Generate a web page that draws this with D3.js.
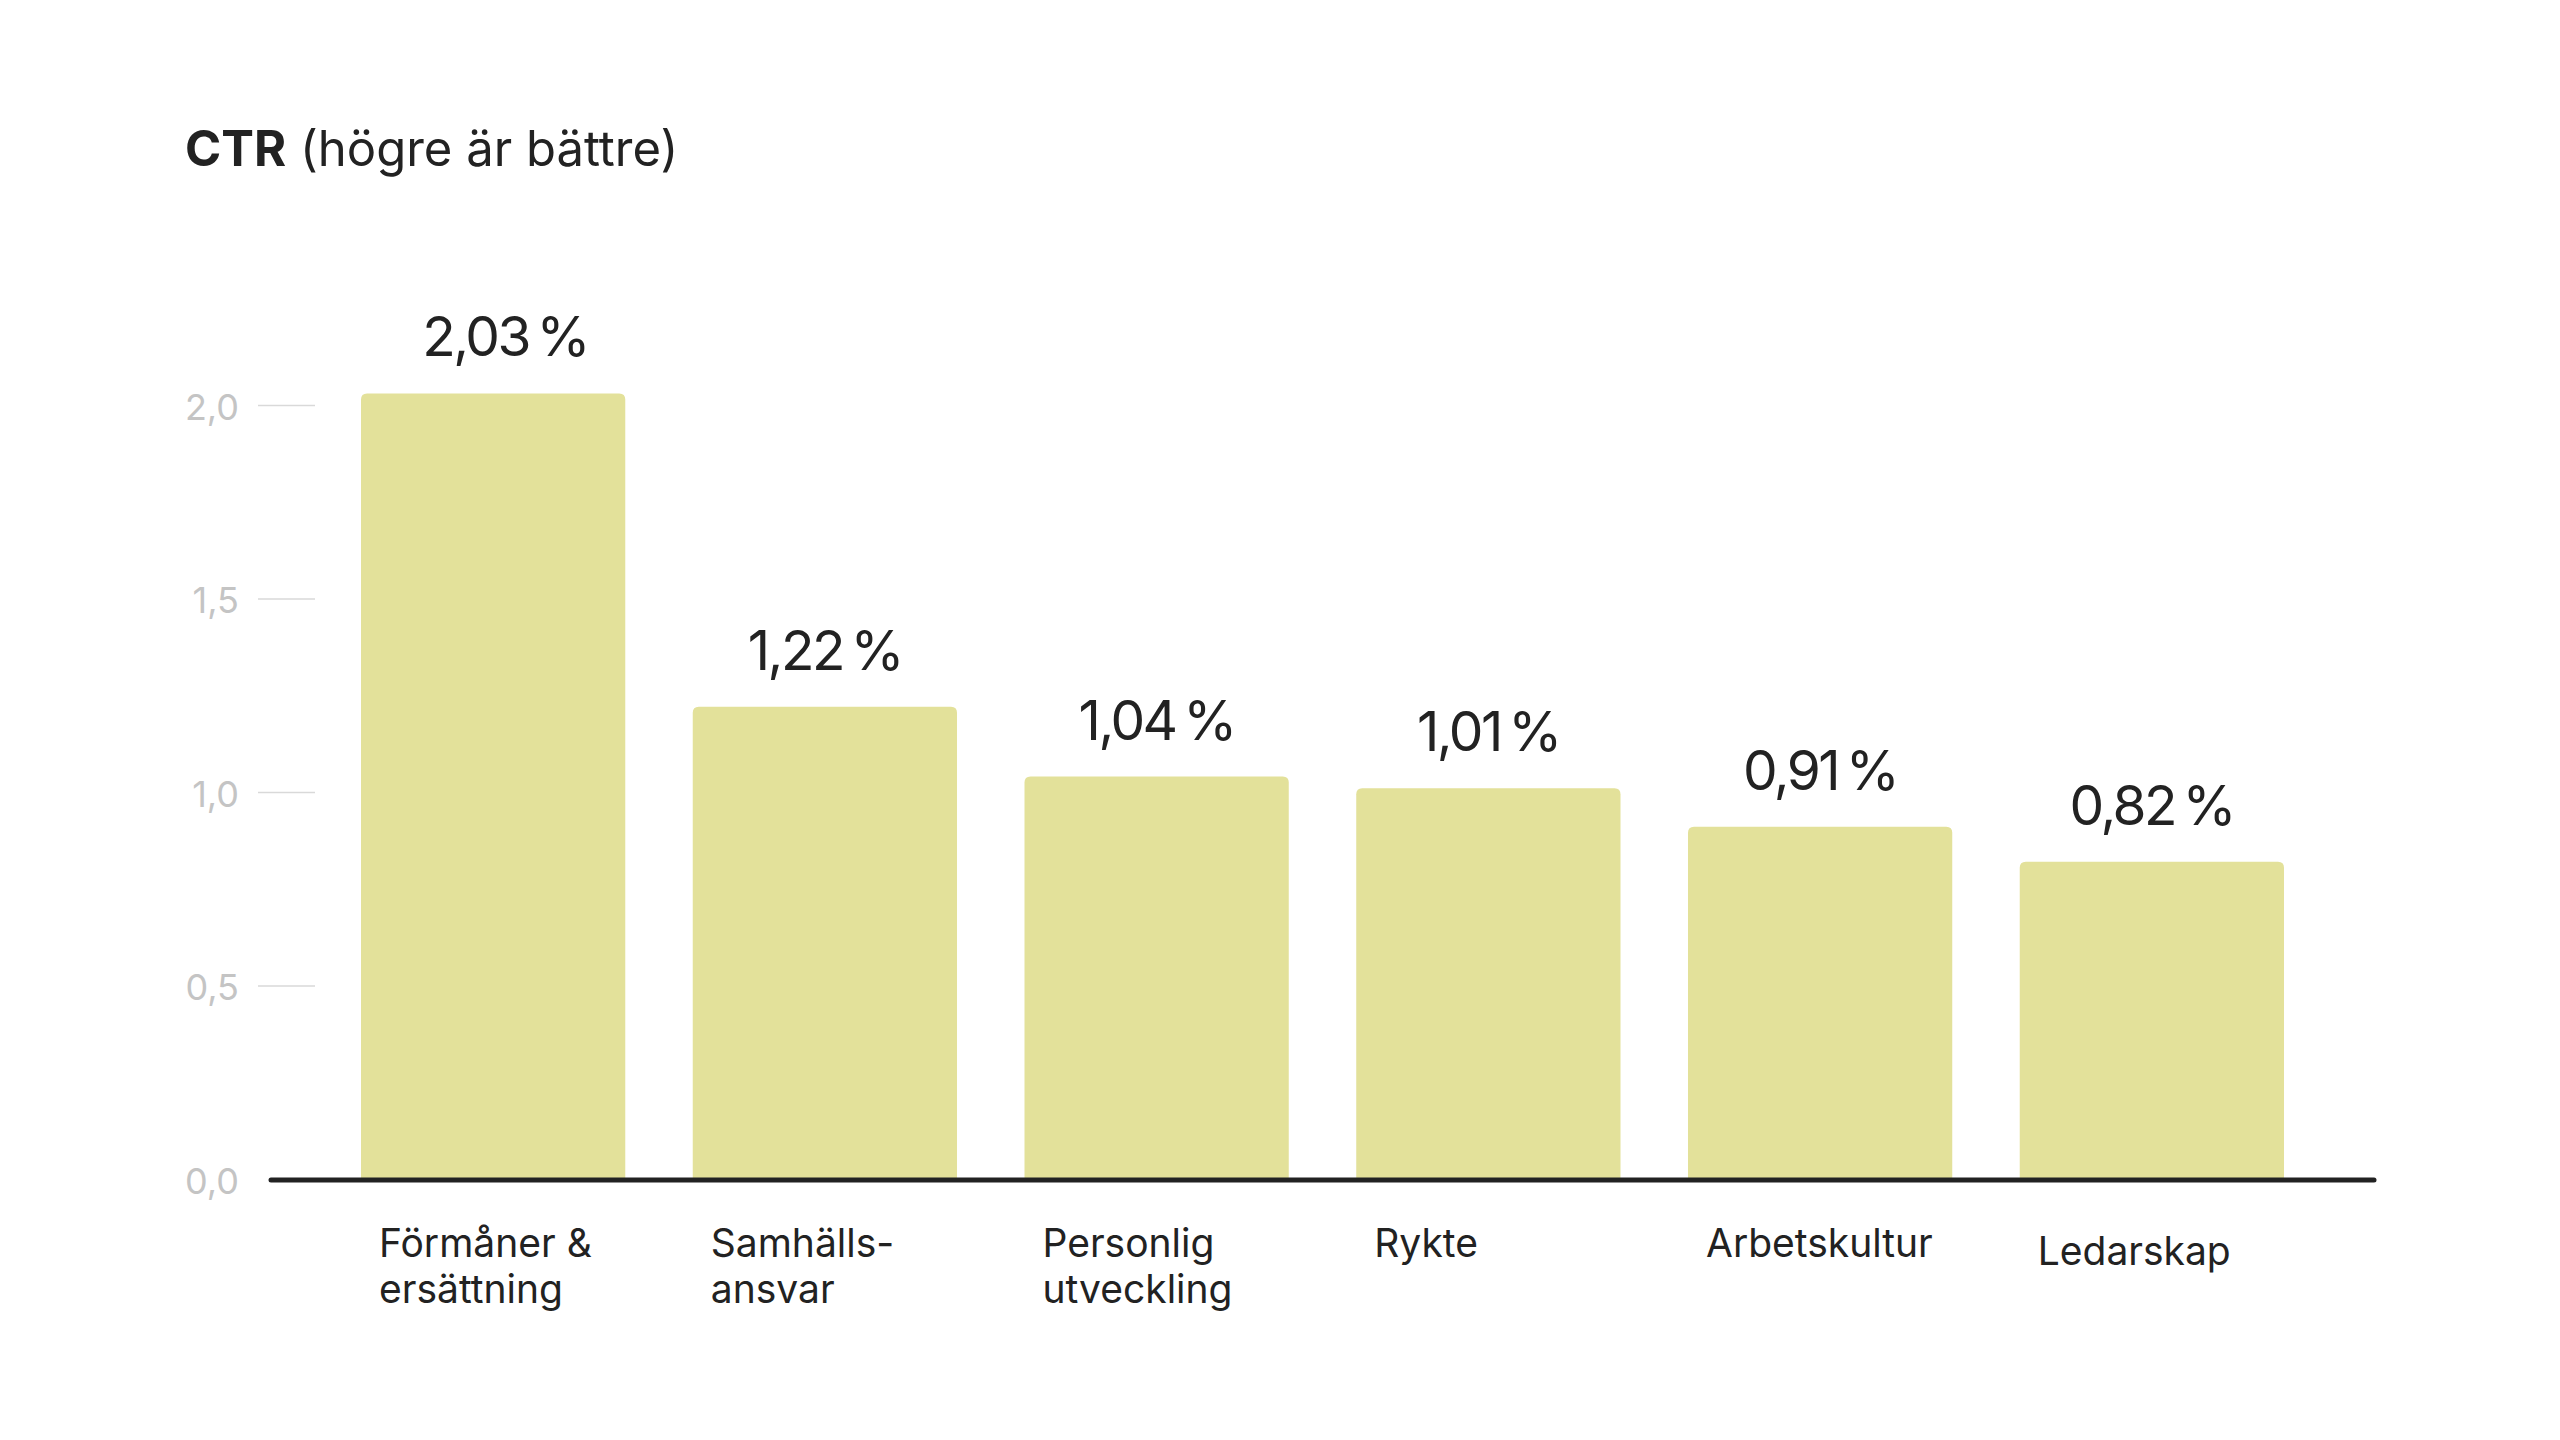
<!DOCTYPE html>
<html>
<head>
<meta charset="utf-8">
<script src="https://cdn.jsdelivr.net/npm/d3@7"></script>
<style>
  html, body { margin: 0; padding: 0; background: #ffffff; }
  svg { display: block; }
  text { font-family: Inter, "Noto Sans", sans-serif; }
</style>
</head>
<body>
<svg id="chart" width="2560" height="1440"></svg>
<script>
// ---- data ----
const categories = ["Förmåner & ersättning", "Samhällsansvar", "Personlig utveckling", "Rykte", "Arbetskultur", "Ledarskap"];
const categoryLines = [["Förmåner &", "ersättning"], ["Samhälls-", "ansvar"], ["Personlig", "utveckling"], ["Rykte"], ["Arbetskultur"], ["Ledarskap"]];
const values = [2.03, 1.22, 1.04, 1.01, 0.91, 0.82];
const yTicks = [0, 0.5, 1.0, 1.5, 2.0];
const titleBold = "CTR";
const titleRest = " (högre är bättre)";

// ---- setup ----
const svg = d3.select("#chart");
const sv = d3.formatLocale({decimal: ",", thousands: "\u00a0", grouping: [3], currency: ["", " kr"]});
const fmtTick = sv.format(".1f");
const fmtVal = sv.format(".2f");

const x = d3.scaleBand().domain(categories).range([361, 2284]).paddingInner(0.2034).paddingOuter(0);
const y = d3.scaleLinear().domain([0, 2]).range([1179, 405]);

// title
const title = svg.append("text").attr("x", 185).attr("y", 166)
  .attr("font-size", 49).attr("fill", "#222");
title.append("tspan").attr("font-weight", 700).text(titleBold);
title.append("tspan").attr("font-weight", 400).text(titleRest);

// y axis (short gridlines + labels)
const yAxis = d3.axisLeft(y).tickValues(yTicks).tickFormat(fmtTick).tickSize(0).tickPadding(0);
const yg = svg.append("g").attr("transform", "translate(239,0)").call(yAxis);
yg.select(".domain").remove();
yg.selectAll(".tick text").attr("font-size", 36).attr("fill", "#c4c4c4")
  .attr("font-family", "Inter, sans-serif").attr("dy", "0.4em").attr("x", 0);
yg.selectAll(".tick").filter(d => d > 0).append("line")
  .attr("x1", 19).attr("x2", 76).attr("stroke", "#d9d9d9").attr("stroke-width", 1.5);

// bars with rounded top corners
const r = 6;
svg.append("g").selectAll("path").data(values).join("path")
  .attr("fill", "#e3e19a")
  .attr("d", (v, i) => {
    const x0 = x(categories[i]), w = x.bandwidth(), y0 = y(v), yb = y(0);
    return `M${x0},${yb} L${x0},${y0 + r} Q${x0},${y0} ${x0 + r},${y0} L${x0 + w - r},${y0} Q${x0 + w},${y0} ${x0 + w},${y0 + r} L${x0 + w},${yb} Z`;
  });

// baseline
svg.append("line").attr("x1", 271).attr("x2", 2374).attr("y1", y(0) + 1).attr("y2", y(0) + 1)
  .attr("stroke", "#222").attr("stroke-width", 5).attr("stroke-linecap", "round");

// value labels
const labelShift = [12, 0, 0, 0, 0, 0];
svg.append("g").selectAll("text").data(values).join("text")
  .attr("x", (v, i) => x(categories[i]) + x.bandwidth() / 2 + labelShift[i])
  .attr("y", v => y(v) - 37)
  .attr("text-anchor", "middle")
  .attr("font-size", 55).attr("fill", "#222").attr("letter-spacing", -2.5)
  .text(v => fmtVal(v) + "\u2009%");

// category labels
const nudge = [0, 0, 0, 0, 0, 8];
const cg = svg.append("g").selectAll("text").data(categoryLines).join("text")
  .attr("x", (d, i) => x(categories[i]) + 18)
  .attr("y", (d, i) => 1257 + nudge[i])
  .attr("font-size", 39).attr("fill", "#222");
cg.selectAll("tspan").data(d => d).join("tspan")
  .attr("x", function() { return d3.select(this.parentNode).attr("x"); })
  .attr("dy", (d, j) => j === 0 ? 0 : 46)
  .text(d => d);
</script>
</body>
</html>
